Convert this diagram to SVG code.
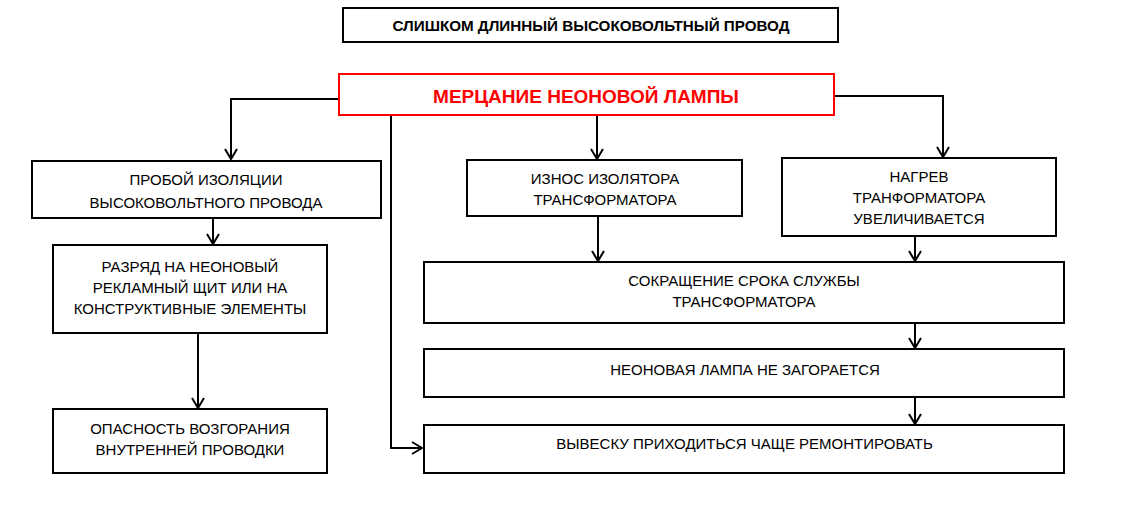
<svg xmlns="http://www.w3.org/2000/svg" width="1133" height="506" viewBox="0 0 1133 506">
<defs>
<style>
.box{fill:#fff;stroke:#000;stroke-width:2}
.red{fill:#fff;stroke:#ff0000;stroke-width:2}
.t{font-family:"Liberation Sans",Arial,sans-serif;font-size:15px;fill:#000;text-anchor:middle}
.tb{font-family:"Liberation Sans",Arial,sans-serif;font-size:15.2px;font-weight:bold;fill:#000;text-anchor:middle}
.tr{font-family:"Liberation Sans",Arial,sans-serif;font-size:19px;font-weight:bold;fill:#ff0000;text-anchor:middle}
.c{fill:none;stroke:#000;stroke-width:2}
</style>
<marker id="arr" markerUnits="userSpaceOnUse" markerWidth="16" markerHeight="16" viewBox="-12 -8 14 16" refX="0" refY="0" orient="auto">
<path d="M-10,-6 L0,0 L-10,6" fill="none" stroke="#000" stroke-width="2"/>
</marker>
</defs>
<rect width="1133" height="506" fill="#fff"/>
<g id="connectors">
<path class="c" d="M338,99 H231 V159" marker-end="url(#arr)"/>
<path class="c" d="M597,115 V159" marker-end="url(#arr)"/>
<path class="c" d="M835,96 H943 V157" marker-end="url(#arr)"/>
<path class="c" d="M391,115 V448 H422" marker-end="url(#arr)"/>
<path class="c" d="M213,218 V244" marker-end="url(#arr)"/>
<path class="c" d="M198,333 V408" marker-end="url(#arr)"/>
<path class="c" d="M598,216 V261" marker-end="url(#arr)"/>
<path class="c" d="M915,236 V261" marker-end="url(#arr)"/>
<path class="c" d="M915,323 V348" marker-end="url(#arr)"/>
<path class="c" d="M915,397 V424" marker-end="url(#arr)"/>
</g>
<g id="n-top">
<rect class="box" x="343" y="8" width="495" height="34"/>
<text class="tb" x="591" y="31">СЛИШКОМ ДЛИННЫЙ ВЫСОКОВОЛЬТНЫЙ ПРОВОД</text>
</g>
<g id="n-main">
<rect class="red" x="339" y="74" width="495" height="41"/>
<text class="tr" x="586" y="103">МЕРЦАНИЕ НЕОНОВОЙ ЛАМПЫ</text>
</g>
<g id="n-proboi">
<rect class="box" x="32" y="161" width="349" height="57"/>
<text class="t" x="206" y="184.5">ПРОБОЙ ИЗОЛЯЦИИ</text>
<text class="t" x="206" y="207.5">ВЫСОКОВОЛЬТНОГО ПРОВОДА</text>
</g>
<g id="n-razryad">
<rect class="box" x="53" y="245" width="274" height="88"/>
<text class="t" x="190" y="271.5">РАЗРЯД НА НЕОНОВЫЙ</text>
<text class="t" x="190" y="292.5">РЕКЛАМНЫЙ ЩИТ ИЛИ НА</text>
<text class="t" x="190" y="313.5">КОНСТРУКТИВНЫЕ ЭЛЕМЕНТЫ</text>
</g>
<g id="n-opasnost">
<rect class="box" x="53" y="409" width="274" height="64"/>
<text class="t" x="190" y="433.5">ОПАСНОСТЬ ВОЗГОРАНИЯ</text>
<text class="t" x="190" y="454.5">ВНУТРЕННЕЙ ПРОВОДКИ</text>
</g>
<g id="n-iznos">
<rect class="box" x="467" y="160" width="275" height="56"/>
<text class="t" x="605" y="183.5">ИЗНОС ИЗОЛЯТОРА</text>
<text class="t" x="605" y="204.5">ТРАНСФОРМАТОРА</text>
</g>
<g id="n-nagrev">
<rect class="box" x="782" y="158" width="274" height="78"/>
<text class="t" x="919" y="182">НАГРЕВ</text>
<text class="t" x="919" y="203">ТРАНФОРМАТОРА</text>
<text class="t" x="919" y="224">УВЕЛИЧИВАЕТСЯ</text>
</g>
<g id="n-sokr">
<rect class="box" x="424" y="262" width="640" height="61"/>
<text class="t" x="744" y="285.5">СОКРАЩЕНИЕ СРОКА СЛУЖБЫ</text>
<text class="t" x="744" y="306.5">ТРАНСФОРМАТОРА</text>
</g>
<g id="n-neon">
<rect class="box" x="424" y="349" width="640" height="48"/>
<text class="t" x="745" y="374.5">НЕОНОВАЯ ЛАМПА НЕ ЗАГОРАЕТСЯ</text>
</g>
<g id="n-vyvesku">
<rect class="box" x="424" y="425" width="640" height="48"/>
<text class="t" x="744.5" y="448.5">ВЫВЕСКУ ПРИХОДИТЬСЯ ЧАЩЕ РЕМОНТИРОВАТЬ</text>
</g>
</svg>
